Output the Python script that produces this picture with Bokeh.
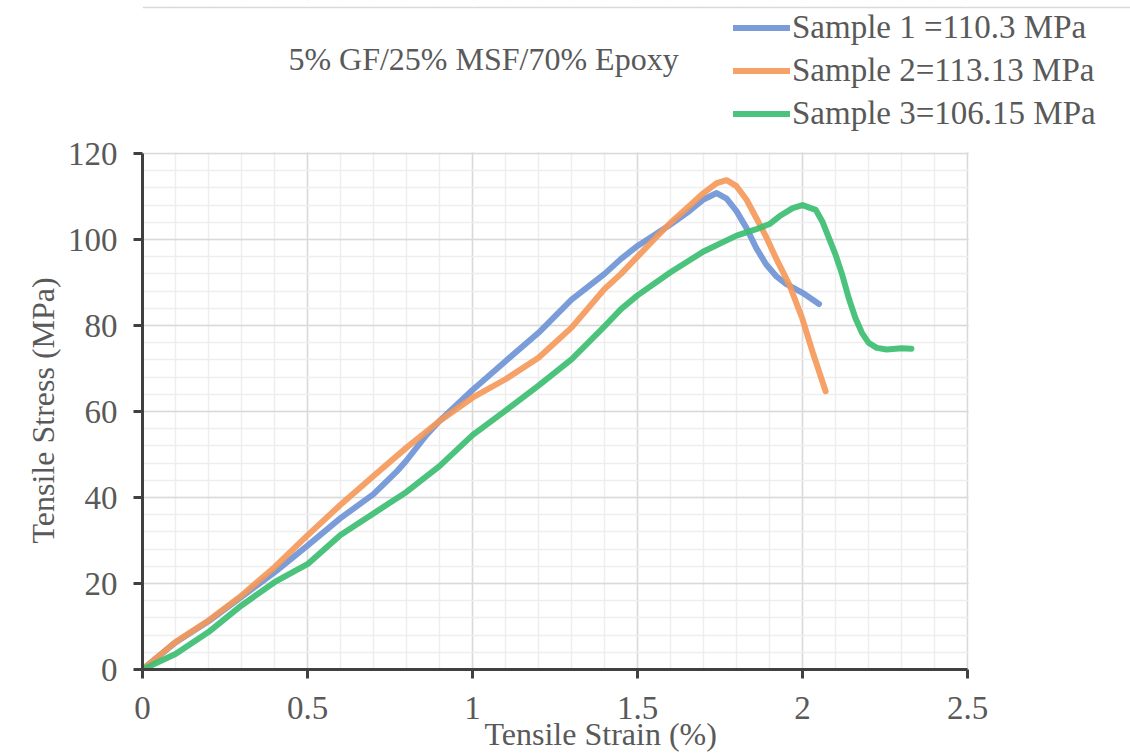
from bokeh.plotting import figure
from bokeh.models import (Legend, LegendItem, Label, SingleIntervalTicker, Range1d,
                          BoxAnnotation, Span, Title)
from bokeh.embed import file_html
from bokeh.resources import INLINE

# ---- data ----
s1_x = [0, 0.1, 0.2, 0.3, 0.4, 0.5, 0.6, 0.7, 0.77, 0.8, 0.86, 0.9, 1.0, 1.1, 1.2, 1.3, 1.4, 1.45, 1.5, 1.6, 1.65, 1.7, 1.74, 1.77, 1.8, 1.83, 1.86, 1.89, 1.92, 1.95, 2.0, 2.05]
s1_y = [0, 6.3, 11.2, 16.9, 22.6, 28.8, 35.2, 40.8, 46.0, 48.6, 54.5, 57.8, 65.0, 71.7, 78.3, 86.0, 92.0, 95.5, 98.5, 103.5, 106.2, 109.3, 110.8, 109.5, 106.6, 102.7, 98.0, 94.2, 91.5, 89.7, 87.6, 85.0]

s2_x = [0, 0.1, 0.2, 0.3, 0.4, 0.5, 0.6, 0.7, 0.8, 0.9, 1.0, 1.1, 1.2, 1.3, 1.4, 1.45, 1.5, 1.55, 1.6, 1.65, 1.7, 1.74, 1.77, 1.8, 1.83, 1.86, 1.89, 1.92, 1.96, 2.0, 2.03, 2.07]
s2_y = [0, 6.4, 11.4, 17.2, 23.8, 31.2, 38.3, 45.0, 51.6, 57.8, 63.2, 67.5, 72.5, 79.5, 88.5, 92.0, 96.0, 100.0, 103.9, 107.3, 110.8, 113.1, 113.8, 112.4, 109.3, 105.0, 100.6, 95.6, 89.5, 81.5, 74.0, 64.7]

s3_x = [0, 0.1, 0.2, 0.3, 0.4, 0.5, 0.6, 0.7, 0.8, 0.9, 1.0, 1.1, 1.2, 1.3, 1.4, 1.45, 1.5, 1.6, 1.7, 1.8, 1.86, 1.9, 1.93, 1.97, 2.0, 2.04, 2.06, 2.08, 2.1, 2.12, 2.14, 2.16, 2.18, 2.2, 2.225, 2.255, 2.3, 2.33]
s3_y = [0, 3.6, 8.7, 14.9, 20.3, 24.5, 31.3, 36.3, 41.3, 47.3, 54.5, 60.2, 66.0, 72.1, 79.8, 83.8, 87.0, 92.4, 97.2, 100.9, 102.4, 103.6, 105.4, 107.3, 108.0, 106.9, 104.2, 100.4, 96.5, 91.9, 86.4, 81.8, 78.3, 76.0, 74.8, 74.4, 74.7, 74.6]

labels = ["Sample 1 =110.3 MPa", "Sample 2=113.13 MPa", "Sample 3=106.15 MPa"]
colors = ["#6F94D6", "#F4995A", "#3DBE72"]
title_text = "5% GF/25% MSF/70% Epoxy"
x_label = "Tensile Strain (%)"
y_label = "Tensile Stress (MPa)"
x_axis_max, y_axis_max = 2.5, 120

FONT = "Liberation Serif"
TXT = "#595959"

# frame: left edge at x=0 (142 px), bottom at y=0 (669 px); 330 px per 1 strain, 4.3 px per MPa
W, H = 1130, 756
LEFT, BOTTOM = 142, 87
XSCALE, YSCALE = 330.0, 4.3
x_max = (W - LEFT) / XSCALE
y_max = (H - BOTTOM) / YSCALE

p = figure(width=W, height=H, output_backend="svg", toolbar_location=None,
           x_range=Range1d(0, x_max), y_range=Range1d(0, y_max),
           min_border_left=LEFT, min_border_right=0, min_border_top=0, min_border_bottom=BOTTOM)
p.background_fill_color = "white"
p.border_fill_color = "white"
p.outline_line_color = None

# axes
p.xaxis.ticker = SingleIntervalTicker(interval=0.5, num_minor_ticks=5)
p.yaxis.ticker = SingleIntervalTicker(interval=20, num_minor_ticks=5)
p.xaxis.bounds = (0, x_axis_max)
p.yaxis.bounds = (0, y_axis_max)
for ax in (p.xaxis[0], p.yaxis[0]):
    ax.axis_line_color = "#404040"
    ax.axis_line_width = 3
    ax.major_tick_line_color = "#404040"
    ax.major_tick_line_width = 3
    ax.major_tick_out = 9
    ax.major_tick_in = 0
    ax.minor_tick_line_color = None
    ax.major_label_text_font = FONT
    ax.major_label_text_font_size = "33px"
    ax.major_label_text_color = TXT
p.xaxis.major_label_standoff = 18
p.yaxis.major_label_standoff = 16

# axis titles (placed in the side panels, offset to match the reference)
xt = Title(text=x_label, align="left", offset=342, standoff=-16,
           text_font=FONT, text_font_size="32px", text_color=TXT, text_font_style="normal")
p.add_layout(xt, "below")
yt = Title(text=y_label, align="left", offset=126, standoff=8,
           text_font=FONT, text_font_size="32px", text_color=TXT, text_font_style="normal")
p.add_layout(yt, "left")

# grid
for g in (p.xgrid[0], p.ygrid[0]):
    g.grid_line_color = "#d9d9d9"
    g.grid_line_width = 1.5
    g.minor_grid_line_color = "#eeeeee"
    g.minor_grid_line_width = 1.5
p.xgrid.bounds = (0, x_axis_max)
p.ygrid.bounds = (0, y_axis_max)

# lines
renderers = []
for xs, ys, c in zip([s1_x, s2_x, s3_x], [s1_y, s2_y, s3_y], colors):
    r = p.line(xs, ys, line_color=c, line_width=6, line_alpha=0.92,
               line_join="round", line_cap="round")
    renderers.append(r)

# white out the grid outside the plot area
p.add_layout(BoxAnnotation(left=x_axis_max + 1.2 / XSCALE, fill_color="white", fill_alpha=1,
                           line_color=None))
p.add_layout(BoxAnnotation(bottom=y_axis_max + 1.2 / YSCALE, fill_color="white", fill_alpha=1,
                           line_color=None))
# chart-area border (top)
p.add_layout(Span(location=(H - BOTTOM - 7) / YSCALE, dimension="width",
                  line_color="#d9d9d9", line_width=1.5))

legend = Legend(items=[LegendItem(label=l, renderers=[r]) for l, r in zip(labels, renderers)],
                location=(591, 534), orientation="vertical")
legend.label_text_font = FONT
legend.label_text_font_size = "33px"
legend.label_text_color = TXT
legend.glyph_width = 57
legend.glyph_height = 43
legend.label_height = 43
legend.label_standoff = 2
legend.spacing = 0
legend.padding = 0
legend.margin = 0
legend.border_line_color = None
legend.background_fill_alpha = 0
p.add_layout(legend, "center")

title = Label(x=(483 - LEFT) / XSCALE, y=(H - BOTTOM - 58) / YSCALE, text=title_text,
              text_font=FONT, text_font_size="32px",
              text_color=TXT, text_align="center", text_baseline="middle")
p.add_layout(title)

open("out.html", "w").write(file_html(p, INLINE))
